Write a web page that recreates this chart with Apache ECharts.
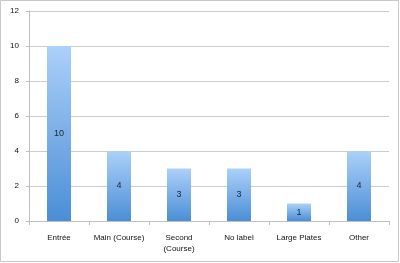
<!DOCTYPE html>
<html><head><meta charset="utf-8">
<script src="https://cdn.jsdelivr.net/npm/echarts@6/dist/echarts.min.js"></script>
<style>html,body{margin:0;padding:0;background:#fff}#c{width:400px;height:263px}</style>
</head><body><div id="c"></div>
<script>
const categories = ["Entrée", "Main (Course)", "Second\n(Course)", "No label", "Large Plates", "Other"];
const values = [10, 4, 3, 3, 1, 4];
const yTicks = [0, 2, 4, 6, 8, 10, 12];

const chart = echarts.init(document.getElementById('c'), null, {renderer: 'canvas'});
const font = 'Liberation Sans, Arial, sans-serif';
chart.setOption({
  animation: false,
  backgroundColor: '#fff',
  graphic: [{type: 'rect', shape: {x: 0.5, y: 0.5, width: 398, height: 261}, style: {fill: 'none', stroke: '#c8c8c8', lineWidth: 1}}],
  grid: {left: 29, right: 11, top: 11, bottom: 42},
  xAxis: {
    type: 'category', data: categories,
    axisLine: {lineStyle: {color: '#bfbfbf'}},
    axisTick: {show: true, length: 4, lineStyle: {color: '#bfbfbf'}},
    axisLabel: {color: '#111', fontSize: 8, fontFamily: font, margin: 11, lineHeight: 11, interval: 0}
  },
  yAxis: {
    type: 'value', min: yTicks[0], max: yTicks[yTicks.length - 1], interval: 2,
    axisLine: {show: true, lineStyle: {color: '#bfbfbf'}},
    axisTick: {show: true, length: 3, lineStyle: {color: '#bfbfbf'}},
    splitLine: {lineStyle: {color: '#cccccc', width: 1}},
    axisLabel: {color: '#111', fontSize: 8, fontFamily: font, margin: 10}
  },
  series: [{
    type: 'bar', data: values, barWidth: '40%',
    itemStyle: {
      color: new echarts.graphic.LinearGradient(0, 0, 0, 1, [
        {offset: 0, color: '#acd0f9'}, {offset: 1, color: '#4a8ed6'}
      ])
    },
    label: {show: true, position: 'inside', color: '#1a2535', fontSize: 9, fontFamily: font}
  }]
});
</script></body></html>
